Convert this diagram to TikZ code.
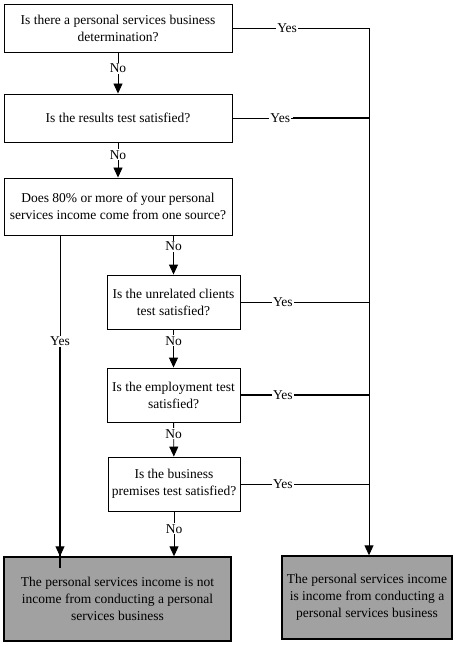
\documentclass[tikz,border=0pt]{standalone}
\usepackage{fontspec}
\setmainfont{Liberation Serif}
\usetikzlibrary{arrows.meta}

\tikzset{
  boite/.style={rectangle, draw, line width=0.9pt, align=center, inner sep=0pt,
    font=\fontsize{13.5}{17}\selectfont},
  fin/.style={boite, fill=black!37, line width=1.4pt},
  lien/.style={line width=0.9pt},
  gras/.style={line width=1.4pt},
  fleche/.style={lien, -{Triangle[width=9pt,length=10pt]}},
  etiq/.style={fill=white, inner sep=1pt, font=\fontsize{13.5}{15}\selectfont}
}

\begin{document}
\begin{tikzpicture}[x=1pt, y=-1pt]
\useasboundingbox (0,0) rectangle (463,647);

% Noeuds
\node[boite, minimum width=228pt, minimum height=48pt] (A) at (118,28) {Is there a personal services business\\determination?};
\node[boite, minimum width=228pt, minimum height=48pt] (B) at (118,118) {Is the results test satisfied?};
\node[boite, minimum width=228pt, minimum height=57pt] (C) at (118,206.5) {Does 80\% or more of your personal\\services income come from one source?};
\node[boite, minimum width=133pt, minimum height=54pt] (D) at (173.5,302) {Is the unrelated clients\\test satisfied?};
\node[boite, minimum width=133pt, minimum height=54pt] (E) at (173.5,395) {Is the employment test\\satisfied?};
\node[boite, minimum width=132pt, minimum height=54pt] (F) at (174,484) {Is the business\\premises test satisfied?};
\node[fin, minimum width=227pt, minimum height=84pt] (G) at (117.5,599) {The personal services income is not\\income from conducting a personal\\services business};
\node[fin, minimum width=170pt, minimum height=83pt] (H) at (367,597.5) {The personal services income\\is income from conducting a\\personal services business};

\coordinate (r1) at (369,28);
\coordinate (g1) at (60,235);

% Arêtes
\draw[fleche] (A) -- node[etiq, pos=0.38] {No} (B);
\draw[fleche] (B) -- node[etiq, pos=0.35] {No} (C);
\draw[fleche] (C.south -| D.north) -- node[etiq, pos=0.28] {No} (D);
\draw[fleche] (D) -- node[etiq, pos=0.3] {No} (E);
\draw[fleche] (E) -- node[etiq, pos=0.33] {No} (F);
\draw[fleche] (F.south) -- node[etiq, pos=0.39] {No} (F.south |- G.north);
\draw[fleche] (g1) -- node[etiq, pos=0.33] (yg) {Yes} (g1 |- G.north);
\draw[gras] (yg.south) -- ([yshift=-12pt]g1 |- G.north);

\draw[lien] (A.east) -- node[etiq, pos=0.4] {Yes} (A.east -| r1);
\draw[lien] (B.east) -- node[etiq, pos=0.35] (yb) {Yes} (B.east -| r1);
\draw[gras] ([xshift=1pt]yb.east) -- (B.east -| r1);
\draw[lien] (D.east) -- node[etiq, pos=0.33] {Yes} (D.east -| r1);
\draw[lien, gras] (E.east) -- node[etiq, pos=0.33] {Yes} (E.east -| r1);
\draw[lien] (F.east) -- node[etiq, pos=0.33] {Yes} (F.east -| r1);
\draw[fleche] (r1) -- (r1 |- H.north);

\end{tikzpicture}
\end{document}
